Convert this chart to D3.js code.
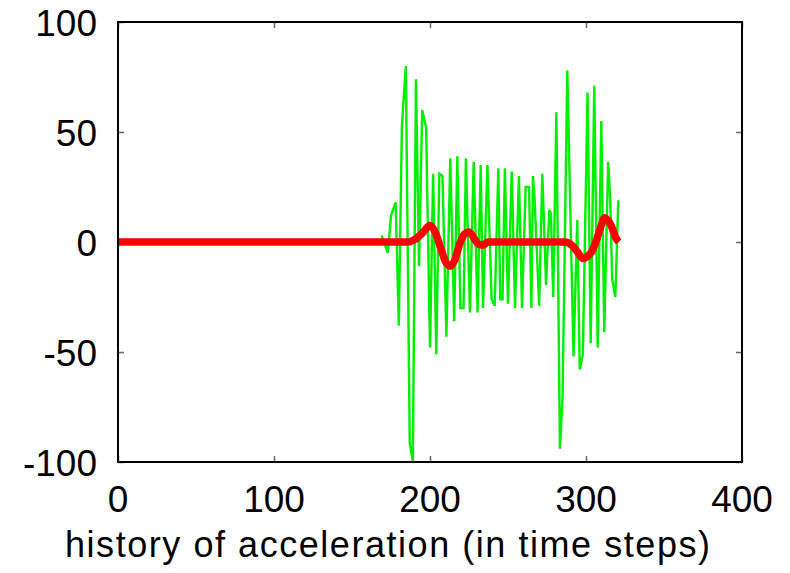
<!DOCTYPE html>
<html>
<head>
<meta charset="utf-8">
<script src="https://cdn.jsdelivr.net/npm/d3@7"></script>
<style>
  body { margin: 0; background: #fff; }
  svg { font-family: "Liberation Sans", Arial, sans-serif; }
</style>
</head>
<body>
<svg id="chart" width="790" height="573"></svg>
<script>
// ticks
const xTicks = [0, 100, 200, 300, 400];
const yTicks = [-100, -50, 0, 50, 100];
const xLabel = "history of acceleration (in time steps)";

// raw acceleration (green): [time step, value]
const rawAccel = [
    [169, 3], [173, -5], [175, 12], [178, 18], [180, -38], [182, 53], [184.5, 80],
    [187, -91], [189, -100], [191, 74], [193, -11], [195, 60], [197.5, 52], [200, -48],
    [202, 31], [204, -51], [206, 31], [208, 30], [210.5, -43], [213, 38], [215.5, -36],
    [217.5, 39], [219.5, -30], [221.5, -30], [223, 38], [225.6, -32], [228, 36.5],
    [230.5, -32], [232.5, 35], [234, -30], [236.8, 35], [239.5, -26], [241.5, -29],
    [243.8, 33.5], [245, -26], [246.5, -26], [248, 33.5], [250, -28], [252.4, 32],
    [254.5, -30], [257, 30], [259, -30], [261.3, 25], [263.5, 25], [265, -30], [266, 30],
    [267, 20], [270, -29], [272, 31], [274.4, -19.5], [276.5, 14.5], [277.5, 13],
    [279, -25], [281, 59], [283.3, -94], [285, -70], [288, 78], [292, -52], [294.4, 10],
    [296, -58], [298, -51], [301, 68], [303, -46], [305.3, 71], [307.5, -48], [309.8, 55],
    [311.7, -41], [314.2, 36.5], [315.5, 20], [316.8, -17], [318.8, -25], [320.7, 19]
];

// filtered acceleration (red): [time step, value]
const filtAccel = [
    [0, 0], [186, 0], [190, 1], [195, 4], [200, 7.5], [203, 5], [207, -3], [210, -9],
    [213, -11], [216, -8], [219, -1], [222, 3.5], [225, 4.5], [228, 2], [231, -1],
    [234, -1.5], [237, 0], [286, 0], [291, -1.5], [295, -5], [298, -7.5], [301, -6.5],
    [304, -4], [307, 1.5], [310, 8], [312, 11], [314, 10], [317, 6], [319, 2], [321, 0]
];

const svg = d3.select("#chart");
const plotLeft = 118, plotRight = 742, plotTop = 22, plotBottom = 462;

const xScale = d3.scaleLinear().domain([0, 400]).range([plotLeft, plotRight]);
const yScale = d3.scaleLinear().domain([-100, 100]).range([plotBottom, plotTop]);

const tickLen = 6;

// ticks (inward, mirrored)
const axes = svg.append("g");
axes.append("g")
    .attr("transform", "translate(0," + plotBottom + ")")
    .call(d3.axisBottom(xScale).tickValues(xTicks).tickSizeInner(-tickLen).tickSizeOuter(0).tickFormat(""))
    .call(g => g.select(".domain").remove());
axes.append("g")
    .attr("transform", "translate(0," + plotTop + ")")
    .call(d3.axisTop(xScale).tickValues(xTicks).tickSizeInner(-tickLen).tickSizeOuter(0).tickFormat(""))
    .call(g => g.select(".domain").remove());
axes.append("g")
    .attr("transform", "translate(" + plotLeft + ",0)")
    .call(d3.axisLeft(yScale).tickValues(yTicks).tickSizeInner(-tickLen).tickSizeOuter(0).tickFormat(""))
    .call(g => g.select(".domain").remove());
axes.append("g")
    .attr("transform", "translate(" + plotRight + ",0)")
    .call(d3.axisRight(yScale).tickValues(yTicks).tickSizeInner(-tickLen).tickSizeOuter(0).tickFormat(""))
    .call(g => g.select(".domain").remove());
axes.selectAll(".tick line").attr("stroke", "#666").attr("stroke-width", 1.5);

// tick labels
svg.append("g").selectAll("text")
    .data(xTicks)
    .join("text")
    .attr("x", d => xScale(d))
    .attr("y", 512)
    .attr("text-anchor", "middle")
    .attr("font-size", 37)
    .text(d => d);

svg.append("g").selectAll("text")
    .data(yTicks)
    .join("text")
    .attr("x", 97)
    .attr("y", d => yScale(d) + 13.5)
    .attr("text-anchor", "end")
    .attr("font-size", 37)
    .text(d => d);

svg.append("text")
    .attr("x", 65)
    .attr("y", 557)
    .attr("font-size", 36)
    .attr("textLength", 645)
    .attr("lengthAdjust", "spacing")
    .text(xLabel);

// lines
const line = d3.line()
    .x(d => xScale(d[0]))
    .y(d => yScale(d[1]));

svg.append("path")
    .datum(rawAccel)
    .attr("fill", "none")
    .attr("stroke", "#00f000")
    .attr("stroke-width", 2.4)
    .attr("stroke-linejoin", "miter")
    .attr("d", line);

svg.append("path")
    .datum(filtAccel)
    .attr("fill", "none")
    .attr("stroke", "#ff0000")
    .attr("stroke-width", 7.5)
    .attr("stroke-linejoin", "round")
    .attr("d", line.curve(d3.curveMonotoneX));

// frame
svg.append("rect")
    .attr("x", plotLeft)
    .attr("y", plotTop)
    .attr("width", plotRight - plotLeft)
    .attr("height", plotBottom - plotTop)
    .attr("fill", "none")
    .attr("stroke", "#000")
    .attr("stroke-width", 2);
</script>
</body>
</html>
